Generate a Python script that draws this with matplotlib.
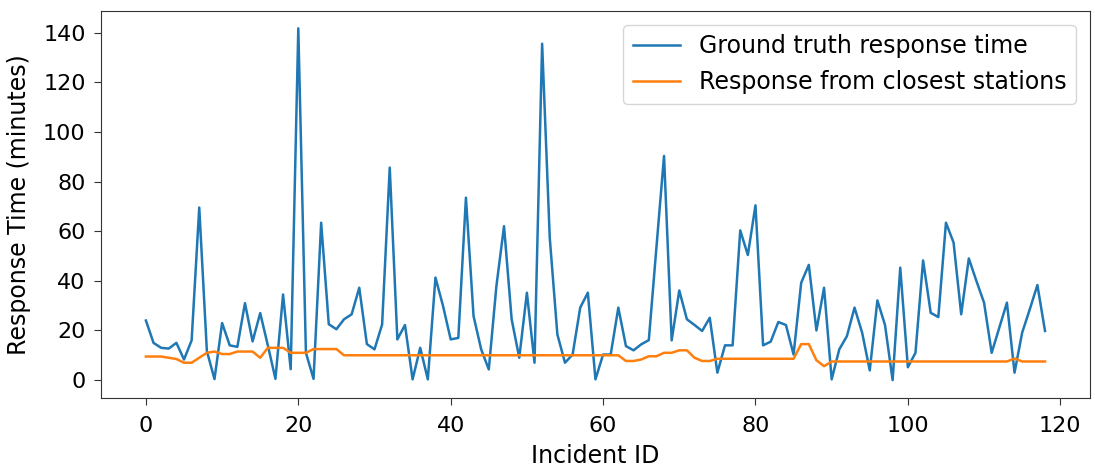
import numpy as np
import matplotlib
matplotlib.use('Agg')
import matplotlib.pyplot as plt

# ground truth response time per incident (minutes)
ground_truth = [24, 15, 13, 12.7, 15, 8.3, 16, 69.5, 11.7, 0.4,
                23, 14, 13.4, 31, 15.6, 27, 14, 0.5, 34.5, 4.4,
                141.7, 11, 0.5, 63.4, 22.5, 20.5, 24.5, 26.5, 37.2, 14.5,
                12.4, 22.4, 85.6, 16.4, 22.2, 0.3, 13, 0.3, 41.3, 29.8,
                16.4, 17, 73.5, 25.8, 12.4, 4.3, 37.9, 62, 24.5, 9,
                35.2, 7, 135.5, 57.4, 18.4, 7, 10.3, 29.2, 35.2, 0.3,
                10.3, 10.3, 29.2, 13.7, 12, 14.4, 16.1, 53.4, 90.3, 16,
                36.1, 24.5, 22.2, 19.8, 25.1, 3, 14, 14, 60.3, 50.4,
                70.4, 14, 15.5, 23.4, 22.2, 10.3, 39.2, 46.4, 20, 37.2,
                0.3, 12.4, 17.7, 29.2, 19.1, 3.9, 32.1, 22.2, 0, 45.3,
                5.2, 11, 48.2, 27.1, 25.4, 63.4, 55.4, 26.5, 49, 39.9,
                31.2, 11, 21.1, 31.2, 3, 19.1, 28.5, 38.3, 19.8]

# response time from closest stations
closest = [9.5, 9.5, 9.5, 9, 8.5, 7, 7, 9, 11, 11.5,
           10.5, 10.5, 11.5, 11.5, 11.5, 9, 13, 13, 13, 11,
           11, 11, 12.5, 12.5, 12.5, 12.5, 10, 10, 10, 10,
           10, 10, 10, 10, 10, 10, 10, 10, 10, 10,
           10, 10, 10, 10, 10, 10, 10, 10, 10, 10,
           10, 10, 10, 10, 10, 10, 10, 10, 10, 10,
           10, 10, 10, 7.7, 7.7, 8.3, 9.6, 9.6, 11, 11,
           12, 12, 9, 7.7, 7.7, 8.6, 8.6, 8.6, 8.6, 8.6,
           8.6, 8.6, 8.6, 8.6, 8.6, 8.6, 14.5, 14.5, 8, 5.6,
           7.5, 7.5, 7.5, 7.5, 7.5, 7.5, 7.5, 7.5, 7.5, 7.5,
           7.5, 7.5, 7.5, 7.5, 7.5, 7.5, 7.5, 7.5, 7.5, 7.5,
           7.5, 7.5, 7.5, 7.5, 8.7, 7.5, 7.5, 7.5, 7.5]

incident_ids = np.arange(len(ground_truth))

fig = plt.figure(figsize=(10.95, 4.67), dpi=100)
ax = fig.add_axes([0.0922, 0.1484, 0.9032, 0.8286])

ax.plot(incident_ids, ground_truth, color='#1f77b4', lw=1.8, label='Ground truth response time')
ax.plot(incident_ids, closest, color='#ff7f0e', lw=1.8, label='Response from closest stations')

ax.set_xlabel('Incident ID', fontsize=17, labelpad=6)
ax.set_ylabel('Response Time (minutes)', fontsize=17, labelpad=9)
ax.set_xticks([0, 20, 40, 60, 80, 100, 120])
ax.set_yticks([0, 20, 40, 60, 80, 100, 120, 140])
ax.tick_params(labelsize=16, length=5, color='#333333')
ax.tick_params(axis='x', pad=8)
ax.tick_params(axis='y', pad=6)
for s in ax.spines.values():
    s.set_color('#333333')

ax.legend(loc='upper right', fontsize=17, handlelength=2.0, borderaxespad=0.6)

fig.savefig('out.png', dpi=100)
